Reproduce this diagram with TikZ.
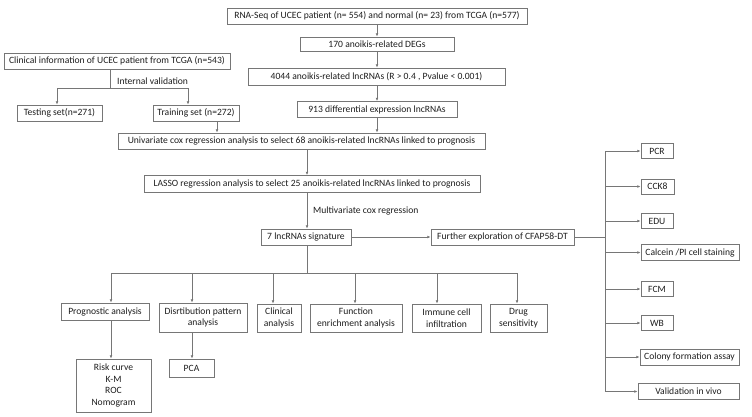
\documentclass[tikz,border=0pt]{standalone}
\usepackage{fontspec}
\setmainfont{Carlito}
\usetikzlibrary{arrows.meta}
\definecolor{linegray}{RGB}{118,118,118}
\definecolor{textgray}{RGB}{30,30,30}
\begin{document}
\begin{tikzpicture}[x=1pt,y=-1pt,
  box/.style={draw=linegray,line width=1pt,inner sep=0pt,align=center,
    text=textgray,font=\fontsize{9.6}{11.6}\selectfont},
  arr/.style={draw=linegray,line width=1pt,-{Latex[length=3.2pt,width=2.8pt]}},
  ln/.style={draw=linegray,line width=1pt},
  lbl/.style={text=textgray,font=\fontsize{9.6}{11.6}\selectfont,inner sep=0pt}]
\useasboundingbox (0,0) rectangle (752,416);
\fill[white] (0,0) rectangle (752,416);
% top stack
\node[box,minimum width=300,minimum height=16] (top) at (377,16) {RNA-Seq of UCEC patient (n= 554) and normal (n= 23) from TCGA (n=577)};
\node[box,minimum width=154,minimum height=14] (deg) at (377,44) {170 anoikis-related DEGs};
\node[box,minimum width=257,minimum height=17] (l4044) at (376.5,76.5) {4044 anoikis-related lncRNAs (R > 0.4 , Pvalue < 0.001)};
\node[box,minimum width=160,minimum height=16] (d913) at (377,109.5) {913 differential expression lncRNAs};
% left stack
\node[box,minimum width=226,minimum height=16] (clin) at (117,61) {Clinical information of UCEC patient from TCGA (n=543)};
\node[box,minimum width=85,minimum height=16] (test) at (59.5,113) {Testing set(n=271)};
\node[box,minimum width=86,minimum height=16] (train) at (196,113) {Training set (n=272)};
% middle
\node[box,minimum width=367,minimum height=16] (uni) at (301.5,141) {Univariate cox regression analysis to select 68 anoikis-related lncRNAs linked to prognosis};
\node[box,minimum width=336,minimum height=17] (lasso) at (312,184) {LASSO regression analysis to select 25 anoikis-related lncRNAs linked to prognosis};
\node[box,minimum width=90,minimum height=16] (sig) at (306,237) {7 lncRNAs signature};
\node[box,minimum width=143,minimum height=16] (fur) at (502.5,237) {Further exploration of CFAP58-DT};
% right column
\node[box,minimum width=32,minimum height=15] (pcr) at (657,151) {PCR};
\node[box,minimum width=33,minimum height=15] (cck) at (657.5,186.5) {CCK8};
\node[box,minimum width=32,minimum height=15] (edu) at (657,221) {EDU};
\node[box,minimum width=98,minimum height=16] (calc) at (690,252.5) {Calcein /PI cell staining};
\node[box,minimum width=32,minimum height=15] (fcm) at (657,289) {FCM};
\node[box,minimum width=32,minimum height=15] (wb) at (657,323) {WB};
\node[box,minimum width=99,minimum height=16] (col) at (689.5,357) {Colony formation assay};
\node[box,minimum width=101,minimum height=16] (val) at (688.5,391.5) {Validation in vivo};
% bottom row
\node[box,minimum width=88,minimum height=17] (prog) at (105,311.5) {Prognostic analysis};
\node[box,minimum width=88,minimum height=29] (dist) at (203,317.5) {Disrtibution pattern\\analysis};
\node[box,minimum width=44,minimum height=28] (clina) at (279,318) {Clinical\\analysis};
\node[box,minimum width=92,minimum height=28] (func) at (356,318) {Function\\enrichment analysis};
\node[box,minimum width=69,minimum height=28] (imm) at (446.5,318) {Immune cell\\infiltration};
\node[box,minimum width=57,minimum height=28] (drug) at (518.5,318) {Drug\\sensitivity};
\node[box,minimum width=75,minimum height=53] (risk) at (113.5,385.5) {Risk curve\\K-M\\ROC\\Nomogram};
\node[box,minimum width=45,minimum height=18] (pca) at (191.5,368) {PCA};
% labels
\node[lbl,anchor=west] (ivlab) at (117,81) {Internal validation};
\node[lbl,anchor=west] (mvlab) at (313,211) {Multivariate cox regression};
% coordinates
\coordinate (c1) at (377,0);
\coordinate (clinx) at (110,0);
\coordinate (bus1) at (110,88);
\coordinate (testx) at (57,0);
\coordinate (trainx) at (188,0);
\coordinate (trainout) at (217,0);
\coordinate (c2) at (307,0);
\coordinate (rbus) at (605,0);
\coordinate (bus2) at (307,273);
\coordinate (b1) at (111,273);
\coordinate (b2) at (192,273);
\coordinate (b3) at (273,273);
\coordinate (b4) at (355,273);
\coordinate (b5) at (437,273);
\coordinate (b6) at (517,273);
% top stack connectors
\draw[arr] (top.south -| c1) -- (deg.north -| c1);
\draw[arr] (deg.south -| c1) -- (l4044.north -| c1);
\draw[arr] (l4044.south -| c1) -- (d913.north -| c1);
\draw[arr] (d913.south -| c1) -- (uni.north -| c1);
% left
\draw[ln] (clin.south -| clinx) -- (bus1);
\draw[ln] (bus1 -| testx) -- (bus1 -| trainx);
\draw[arr] (bus1 -| testx) -- (test.north -| testx);
\draw[arr] (bus1 -| trainx) -- (train.north -| trainx);
\draw[arr] (train.south -| trainout) -- (uni.north -| trainout);
% middle
\draw[arr] (uni.south -| c2) -- (lasso.north -| c2);
\draw[arr] (lasso.south -| c2) -- (sig.north -| c2);
\draw[arr] (sig.east) -- (fur.west);
% right column
\draw[ln] (fur.east) -- (fur.east -| rbus);
\draw[ln] (pcr.west -| rbus) -- (val.west -| rbus);
\foreach \n in {pcr,cck,edu,calc,fcm,wb,col,val}
  \draw[arr] (\n.west -| rbus) -- (\n.west);
% bottom
\draw[ln] (sig.south -| bus2) -- (bus2);
\draw[ln] (b1) -- (b6);
\draw[arr] (b1) -- (prog.north -| b1);
\draw[arr] (b2) -- (dist.north -| b2);
\draw[arr] (b3) -- (clina.north -| b3);
\draw[arr] (b4) -- (func.north -| b4);
\draw[arr] (b5) -- (imm.north -| b5);
\draw[arr] (b6) -- (drug.north -| b6);
\draw[arr] (prog.south -| b1) -- (risk.north -| b1);
\draw[arr] (dist.south -| b2) -- (pca.north -| b2);
\end{tikzpicture}
\end{document}
